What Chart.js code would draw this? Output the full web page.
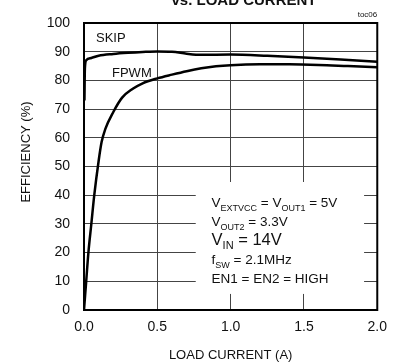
<!DOCTYPE html>
<html>
<head>
<meta charset="utf-8">
<script src="https://cdn.jsdelivr.net/npm/chart.js@4.4.1/dist/chart.umd.min.js"></script>
<style>
  html, body { margin: 0; padding: 0; background: #fff; }
  #wrap { width: 396px; height: 364px; }
</style>
</head>
<body>
<div id="wrap"><canvas id="eff"></canvas></div>
<script>
// load current (A) / efficiency (%)
const skipCurrent    = [0.003, 0.006, 0.015, 0.05, 0.1, 0.2, 0.3, 0.4, 0.5, 0.6, 0.7, 0.8, 1.0, 1.25, 1.5, 1.75, 2.0];
const skipEfficiency = [73, 84, 87, 87.8, 88.6, 89.2, 89.6, 89.9, 90.1, 90.0, 89.3, 88.9, 89.0, 88.6, 88.0, 87.3, 86.5];

const fpwmCurrent    = [0, 0.015, 0.03, 0.05, 0.07, 0.1, 0.12, 0.145, 0.2, 0.26, 0.33, 0.4, 0.5, 0.6, 0.7, 0.8, 0.9, 1.0, 1.2, 1.4, 1.6, 1.8, 2.0];
const fpwmEfficiency = [0, 10, 20, 30, 40, 52, 58.5, 63, 69, 74, 77, 79, 80.7, 82, 83.2, 84.2, 84.9, 85.3, 85.6, 85.6, 85.4, 85.0, 84.6];

const xTicks = [0, 0.5, 1.0, 1.5, 2.0];
const yTicks = [0, 10, 20, 30, 40, 50, 60, 70, 80, 90, 100];

const conditions = [
  [['V'], ['EXTVCC', 1], [' = V'], ['OUT1', 1], [' = 5V']],
  [['V'], ['OUT2', 1], [' = 3.3V']],
  [['V'], ['IN', 1], [' = 14V']],
  [['f'], ['SW', 1], [' = 2.1MHz']],
  [['EN1 = EN2 = HIGH']]
];

const FONT = '"Liberation Sans", Arial, Helvetica, sans-serif';

const pts = (xs, ys) => xs.map((x, i) => ({ x: x, y: ys[i] }));

function drawRuns(ctx, x, y, parts, size, subSize) {
  parts.forEach(p => {
    const sub = p[1];
    ctx.font = (sub ? subSize : size) + 'px ' + FONT;
    ctx.fillText(p[0], x, sub ? y + 4 : y);
    x += ctx.measureText(p[0]).width;
  });
}

const decor = {
  id: 'decor',
  beforeDatasetsDraw(chart) {
    const { ctx, scales: { x, y } } = chart;
    // white panel behind the conditions text
    const l = x.getPixelForValue(0.762), r = x.getPixelForValue(1.91);
    const t = y.getPixelForValue(44.6), b = y.getPixelForValue(5.6);
    ctx.save();
    ctx.fillStyle = '#fff';
    ctx.fillRect(l, t, r - l, b - t);
    ctx.restore();
  },
  afterDraw(chart) {
    const { ctx, chartArea: a, scales: { x, y } } = chart;
    ctx.save();
    ctx.strokeStyle = '#000';
    ctx.lineWidth = 2;
    ctx.strokeRect(a.left, a.top, a.right - a.left, a.bottom - a.top);

    ctx.fillStyle = '#111';
    ctx.textBaseline = 'alphabetic';

    ctx.font = 'bold 15px ' + FONT;
    ctx.textAlign = 'center';
    ctx.fillText('vs. LOAD CURRENT', 244, 5);

    ctx.font = '8px ' + FONT;
    ctx.textAlign = 'right';
    ctx.fillText('toc06', a.right, 17);

    ctx.textAlign = 'left';
    ctx.font = '13px ' + FONT;
    ctx.fillText('SKIP', 96, 42);
    ctx.fillText('FPWM', 112, 77);

    const lx = x.getPixelForValue(0.87);
    const base = [35.9, 29.3, 22.6, 16.0, 9.4];
    conditions.forEach((line, i) => {
      if (i === 2) drawRuns(ctx, lx, y.getPixelForValue(base[i]), line, 16.5, 11);
      else drawRuns(ctx, lx, y.getPixelForValue(base[i]), line, 13.5, 9);
    });

    ctx.font = '13px ' + FONT;
    ctx.textAlign = 'center';
    ctx.textBaseline = 'middle';
    ctx.translate(26, 152);
    ctx.rotate(-Math.PI / 2);
    ctx.fillText('EFFICIENCY (%)', 0, 0);
    ctx.restore();
  }
};

new Chart(document.getElementById('eff'), {
  type: 'line',
  data: {
    datasets: [
      {
        label: 'SKIP',
        data: pts(skipCurrent, skipEfficiency),
        borderColor: '#000',
        borderWidth: 2.5,
        pointRadius: 0,
        cubicInterpolationMode: 'monotone',
        fill: false
      },
      {
        label: 'FPWM',
        data: pts(fpwmCurrent, fpwmEfficiency),
        borderColor: '#000',
        borderWidth: 2.5,
        pointRadius: 0,
        cubicInterpolationMode: 'monotone',
        fill: false
      }
    ]
  },
  options: {
    responsive: true,
    maintainAspectRatio: false,
    animation: false,
    layout: { padding: { left: 0, right: 18, top: 23, bottom: 0 } },
    plugins: {
      legend: { display: false },
      tooltip: { enabled: false }
    },
    scales: {
      x: {
        type: 'linear',
        min: 0,
        max: 2,
        afterBuildTicks: s => { s.ticks = xTicks.map(v => ({ value: v })); },
        afterFit: s => { s.height = 54; },
        grid: { color: '#444', lineWidth: 1, drawTicks: false },
        border: { display: false },
        ticks: {
          padding: 9,
          color: '#111',
          font: { family: FONT, size: 14 },
          maxRotation: 0,
          callback: v => v.toFixed(1)
        },
        title: {
          display: true,
          text: 'LOAD CURRENT (A)',
          color: '#111',
          font: { family: FONT, size: 13 },
          padding: { top: 0, bottom: 1 }
        }
      },
      y: {
        min: 0,
        max: 100,
        afterBuildTicks: s => { s.ticks = yTicks.map(v => ({ value: v })); },
        afterFit: s => { s.width = 84; },
        grid: { color: '#444', lineWidth: 1, drawTicks: false },
        border: { display: false },
        ticks: {
          padding: 14,
          color: '#111',
          font: { family: FONT, size: 14 }
        }
      }
    }
  },
  plugins: [decor]
});
</script>
</body>
</html>
